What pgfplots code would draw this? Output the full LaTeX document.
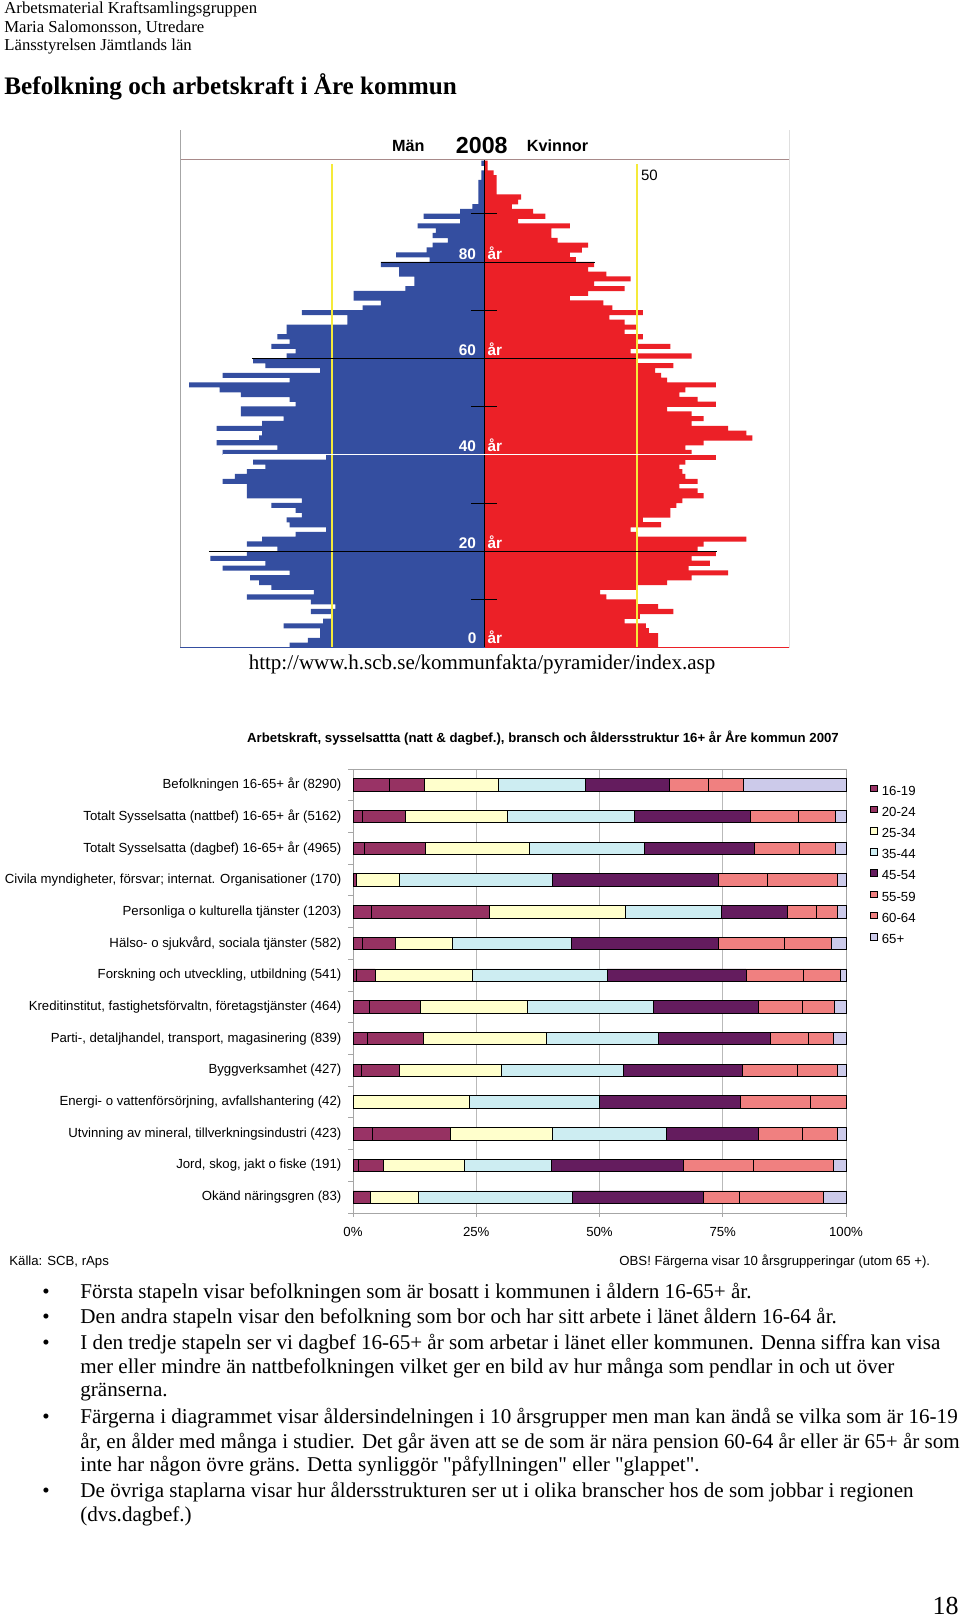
\documentclass[border=0pt]{standalone}
\usepackage{fontspec}
\setmainfont{Liberation Serif}[Ligatures=TeXOff]
\newfontfamily\arial{Liberation Sans}
\usepackage{pgfplots}
\usepackage{pgfplotstable}
\pgfplotsset{compat=1.18}
\definecolor{menblue}{HTML}{344EA0}
\definecolor{womenred}{HTML}{EC2027}
\definecolor{yline}{HTML}{F5EA3A}
\definecolor{hdrline}{HTML}{A88A8A}
\definecolor{cA}{HTML}{993366}
\definecolor{cB}{HTML}{963262}
\definecolor{cC}{HTML}{FFFFCC}
\definecolor{cD}{HTML}{CDEDF2}
\definecolor{cE}{HTML}{641C5E}
\definecolor{cF}{HTML}{F08080}
\definecolor{cG}{HTML}{F08080}
\definecolor{cH}{HTML}{CCCAEA}
\pgfplotsset{boxlegend/.style={legend image code/.code={\draw[##1,line width=0.4pt] (0pt,-1.2pt) rectangle (3.3pt,2.1pt);}}}

\pgfplotstableread{
age men women
0 64 57
1 58 57
2 54 57
3 54 54
4 66 53
5 53 46
6 50 51
7 57 62
8 49 57
9 57 50
10 78 40
11 56 38
12 70 50
13 74 60
14 77 68
15 64 80
16 86 67
17 72 74
18 90 68
19 78 76
20 68 70
21 78 72
22 73 86
23 62 50
24 52 48
25 64 58
26 65 52
27 60 61
28 62 61
29 70 63
30 60 65
31 78 72
32 78 70
33 78 64
34 86 70
35 82 66
36 78 65
37 72 64
38 76 66
39 52 76
40 86 68
41 68 66
42 88 72
43 74 88
44 73 86
45 88 80
46 73 68
47 66 72
48 80 68
49 80 60
50 62 76
51 64 70
52 80 64
53 87 66
54 97 76
55 64 60
56 86 58
57 54 56
58 72 62
59 76 50
60 65 68
61 62 48
62 70 61
63 64 50
64 68 52
65 65 46
66 65 50
67 45 46
68 45 41
69 60 52
70 40 42
71 34 39
72 43 28
73 43 34
74 26 46
75 23 36
76 23 48
77 28 40
78 28 34
79 34 36
80 18 30
81 29 28
82 19 32
83 17 34
84 12 24
85 17 22
86 16 22
87 22 28
88 8 11
89 20 20
90 8 16
91 4 9
92 2 11
93 2 12
94 2 4
95 2 4
96 2 4
97 1 4
98 1 3
99 0 1
100 1 1
}\pyr

\pgfplotstableread{
idx a b c d e f g h
0 7.4 7.0 15.1 17.7 17.0 7.8 7.2 20.8
1 2.0 8.7 20.7 25.6 23.7 9.7 7.4 2.2
2 2.4 12.2 21.2 23.3 22.4 9.1 7.3 2.1
3 0.6 0 8.9 30.9 33.8 9.9 14.1 1.8
4 3.7 24.0 27.5 19.6 13.3 5.9 4.3 1.7
5 2.0 6.6 11.6 24.1 29.8 13.5 9.5 2.9
6 0.6 3.9 19.8 27.2 28.2 11.6 7.6 1.1
7 3.3 10.4 21.6 25.6 21.4 8.8 6.6 2.3
8 2.9 11.4 25.0 22.6 22.8 7.7 5.0 2.6
9 1.7 7.8 20.6 24.8 24.1 11.1 8.1 1.8
10 0 0 23.7 26.2 28.7 14.2 7.2 0
11 3.9 15.8 20.7 23.1 18.8 8.8 7.1 1.8
12 1.1 5.1 16.3 17.7 26.8 14.3 16.1 2.6
13 0 3.5 9.7 31.4 26.5 7.2 17.1 4.6
}\bars

\begin{document}
\begin{tikzpicture}
\fill[white] (0,0) rectangle (480pt,-810pt);
\path[use as bounding box] (0,0) rectangle (480pt,-810pt);

% ---------- population pyramid ----------
\begin{axis}[at={(90pt,-323.8pt)}, anchor=south west,
  width=304.5pt, height=258.8pt, scale only axis,
  xmin=-100, xmax=100, ymin=0, ymax=107.4,
  hide axis, clip=false]
\addplot[xbar, bar width=1.06, bar shift=0pt, fill=menblue, draw=none]
  table[x expr=-\thisrow{men}, y expr=\thisrow{age}+0.5]{\pyr};
\addplot[xbar, bar width=1.06, bar shift=0pt, fill=womenred, draw=none]
  table[x=women, y expr=\thisrow{age}+0.5]{\pyr};
\draw[yline, line width=1pt] (-50,0) -- (-50,100.3);
\draw[yline, line width=1pt] (50,0) -- (50,100.3);
\draw[black, line width=0.5pt] (0,0) -- (0,101.3);
\draw[hdrline, line width=0.7pt] (-100,101.3) -- (100,101.3);
\draw[gray!70, line width=0.5pt] (-100,0) -- (-100,107.4);
\draw[gray!25, line width=0.5pt] (100,0) -- (100,107.4);
\draw[menblue, line width=0.5pt] (-100,0) -- (0,0);
\draw[womenred, line width=0.5pt] (0,0) -- (100,0);
\draw[black, line width=0.5pt] (-34,80) -- (36.4,80);
\draw[black, line width=0.5pt] (-76.4,60) -- (49.9,60);
\draw[white, line width=0.5pt] (-86,40) -- (76,40);
\draw[black, line width=0.5pt] (-90.5,20) -- (76.4,20);
\draw[black, line width=0.5pt] (-4.3,10) -- (4.2,10);
\draw[black, line width=0.5pt] (-4.3,30) -- (4.2,30);
\draw[black, line width=0.5pt] (-4.3,50) -- (4.2,50);
\draw[black, line width=0.5pt] (-4.3,70) -- (4.2,70);
\draw[black, line width=0.5pt] (-4.3,90) -- (4.2,90);
\node[anchor=base east, inner sep=0pt, text=white, font=\arial\bfseries\fontsize{7.7}{8}\selectfont] at (-2.7,80.6) {80};
\node[anchor=base west, inner sep=0pt, text=white, font=\arial\bfseries\fontsize{7.7}{8}\selectfont] at (0.9,80.6) {år};
\node[anchor=base east, inner sep=0pt, text=white, font=\arial\bfseries\fontsize{7.7}{8}\selectfont] at (-2.7,60.6) {60};
\node[anchor=base west, inner sep=0pt, text=white, font=\arial\bfseries\fontsize{7.7}{8}\selectfont] at (0.9,60.6) {år};
\node[anchor=base east, inner sep=0pt, text=white, font=\arial\bfseries\fontsize{7.7}{8}\selectfont] at (-2.7,40.6) {40};
\node[anchor=base west, inner sep=0pt, text=white, font=\arial\bfseries\fontsize{7.7}{8}\selectfont] at (0.9,40.6) {år};
\node[anchor=base east, inner sep=0pt, text=white, font=\arial\bfseries\fontsize{7.7}{8}\selectfont] at (-2.7,20.6) {20};
\node[anchor=base west, inner sep=0pt, text=white, font=\arial\bfseries\fontsize{7.7}{8}\selectfont] at (0.9,20.6) {år};
\node[anchor=base east, inner sep=0pt, text=white, font=\arial\bfseries\fontsize{7.7}{8}\selectfont] at (-2.5,0.9) {0};
\node[anchor=base west, inner sep=0pt, text=white, font=\arial\bfseries\fontsize{7.7}{8}\selectfont] at (0.9,0.9) {år};
\node[anchor=base west, inner sep=0pt, font=\arial\fontsize{7.5}{8}\selectfont] at (51.3,97) {50};
\node[anchor=base west, inner sep=0pt, font=\arial\bfseries\fontsize{8.1}{9}\selectfont] at (-30.5,102.9) {Män};
\node[anchor=base, inner sep=0pt, font=\arial\bfseries\fontsize{11.6}{12}\selectfont] at (-0.9,102.6) {2008};
\node[anchor=base west, inner sep=0pt, font=\arial\bfseries\fontsize{8.1}{9}\selectfont] at (13.8,102.9) {Kvinnor};
\end{axis}

% ---------- stacked bar chart ----------
\begin{axis}[at={(176.5pt,-606.5pt)}, anchor=south west,
  width=246.5pt, height=222pt, scale only axis,
  xbar stacked, bar width=0.39,
  xmin=0, xmax=100, ymin=-0.5, ymax=13.5, y dir=reverse,
  axis line style={gray!70, line width=0.4pt},
  xmajorgrids, grid style={gray!55, line width=0.4pt},
  xtick={0,25,50,75,100}, xticklabels={0\%,25\%,50\%,75\%,100\%},
  ytick={0,...,13},
  major tick length=0pt,
  yticklabel style={xshift=-2.3pt},
  xticklabel style={yshift=-3.5pt},
  yticklabels={{Befolkningen 16-65+ år (8290)},{Totalt Sysselsatta (nattbef) 16-65+ år (5162)},{Totalt Sysselsatta (dagbef) 16-65+ år (4965)},{Civila myndigheter, försvar; internat. Organisationer (170)},{Personliga o kulturella tjänster (1203)},{Hälso- o sjukvård, sociala tjänster (582)},{Forskning och utveckling, utbildning (541)},{Kreditinstitut, fastighetsförvaltn, företagstjänster (464)},{Parti-, detaljhandel, transport, magasinering (839)},{Byggverksamhet (427)},{Energi- o vattenförsörjning, avfallshantering (42)},{Utvinning av mineral, tillverkningsindustri (423)},{Jord, skog, jakt o fiske (191)},{Okänd näringsgren (83)}},
  ticklabel style={font=\arial\fontsize{6.6}{7}\selectfont},
  legend style={at={(1.048,0.969)}, anchor=north west, draw=none, fill=none, inner sep=0pt,
    font=\arial\fontsize{6.6}{7}\selectfont, row sep=4.6pt,
    nodes={inner sep=0pt, text height=6pt, text depth=0pt},
    /tikz/every odd column/.style={column sep=2.2pt}},
  legend cell align=left, clip=false]
\addplot[fill=cA, draw=black, line width=0.4pt, boxlegend] table[x=a, y=idx]{\bars};
\addplot[fill=cB, draw=black, line width=0.4pt, boxlegend] table[x=b, y=idx]{\bars};
\addplot[fill=cC, draw=black, line width=0.4pt, boxlegend] table[x=c, y=idx]{\bars};
\addplot[fill=cD, draw=black, line width=0.4pt, boxlegend] table[x=d, y=idx]{\bars};
\addplot[fill=cE, draw=black, line width=0.4pt, boxlegend] table[x=e, y=idx]{\bars};
\addplot[fill=cF, draw=black, line width=0.4pt, boxlegend] table[x=f, y=idx]{\bars};
\addplot[fill=cG, draw=black, line width=0.4pt, boxlegend] table[x=g, y=idx]{\bars};
\addplot[fill=cH, draw=black, line width=0.4pt, boxlegend] table[x=h, y=idx]{\bars};
\legend{16-19,20-24,25-34,35-44,45-54,55-59,60-64,65+}
\pgfplotsinvokeforeach{-0.5,0.5,...,13.5}{\draw[gray!70, line width=0.4pt] (0,#1) -- ++(-2.3pt,0pt);}
\pgfplotsinvokeforeach{0,25,50,75,100}{\draw[gray!70, line width=0.4pt] (#1,13.5) -- ++(0pt,-2pt);}
\end{axis}

% ---------- text ----------
\begin{scope}[x=0.5pt,y=-0.5pt]
\node[anchor=base west, inner sep=0pt, font=\fontsize{8.35}{10}\selectfont] at (4,13.3) {Arbetsmaterial Kraftsamlingsgruppen};
\node[anchor=base west, inner sep=0pt, font=\fontsize{8.35}{10}\selectfont] at (4,32.3) {Maria Salomonsson, Utredare};
\node[anchor=base west, inner sep=0pt, font=\fontsize{8.35}{10}\selectfont] at (4,51) {Länsstyrelsen Jämtlands län};
\node[anchor=base west, inner sep=0pt, font=\bfseries\fontsize{12.6}{14}\selectfont] at (4,94.3) {Befolkning och arbetskraft i Åre kommun};
\node[anchor=base, inner sep=0pt, font=\fontsize{10.5}{12}\selectfont] at (482,669) {http://www.h.scb.se/kommunfakta/pyramider/index.asp};
\node[anchor=base, inner sep=0pt, font=\arial\bfseries\fontsize{6.6}{7}\selectfont] at (543,742) {Arbetskraft, sysselsattta (natt \& dagbef.), bransch och åldersstruktur 16+ år Åre kommun 2007};
\node[anchor=base west, inner sep=0pt, font=\arial\fontsize{6.6}{7}\selectfont] at (9,1265) {Källa: SCB, rAps};
\node[anchor=base west, inner sep=0pt, font=\arial\fontsize{6.6}{7}\selectfont] at (619,1265) {OBS! Färgerna visar 10 årsgrupperingar (utom 65 +).};
\node[anchor=base, inner sep=0pt, font=\fontsize{10.5}{12}\selectfont] at (46,1298) {•};
\node[anchor=base, inner sep=0pt, font=\fontsize{10.5}{12}\selectfont] at (46,1323.5) {•};
\node[anchor=base, inner sep=0pt, font=\fontsize{10.5}{12}\selectfont] at (46,1349) {•};
\node[anchor=base, inner sep=0pt, font=\fontsize{10.5}{12}\selectfont] at (46,1423) {•};
\node[anchor=base, inner sep=0pt, font=\fontsize{10.5}{12}\selectfont] at (46,1497.5) {•};
\begin{scope}[every node/.style={anchor=base west, inner sep=0pt, font=\fontsize{10.55}{12}\selectfont}]
\node at (80,1298) {Första stapeln visar befolkningen som är bosatt i kommunen i åldern 16-65+ år.};
\node at (80,1323.5) {Den andra stapeln visar den befolkning som bor och har sitt arbete i länet åldern 16-64 år.};
\node at (80,1349) {I den tredje stapeln ser vi dagbef 16-65+ år som arbetar i länet eller kommunen. Denna siffra kan visa};
\node at (80,1373) {mer eller mindre än nattbefolkningen vilket ger en bild av hur många som pendlar in och ut över};
\node at (80,1396.5) {gränserna.};
\node at (80,1423) {Färgerna i diagrammet visar åldersindelningen i 10 årsgrupper men man kan ändå se vilka som är 16-19};
\node at (80,1448) {år, en ålder med många i studier. Det går även att se de som är nära pension 60-64 år eller är 65+ år som};
\node at (80,1471.5) {inte har någon övre gräns. Detta synliggör "påfyllningen" eller "glappet".};
\node at (80,1497.5) {De övriga staplarna visar hur åldersstrukturen ser ut i olika branscher hos de som jobbar i regionen};
\node at (80,1521.5) {(dvs.dagbef.)};
\end{scope}
\node[anchor=base east, inner sep=0pt, font=\fontsize{13}{15}\selectfont] at (959,1614) {18};
\end{scope}
\end{tikzpicture}
\end{document}
